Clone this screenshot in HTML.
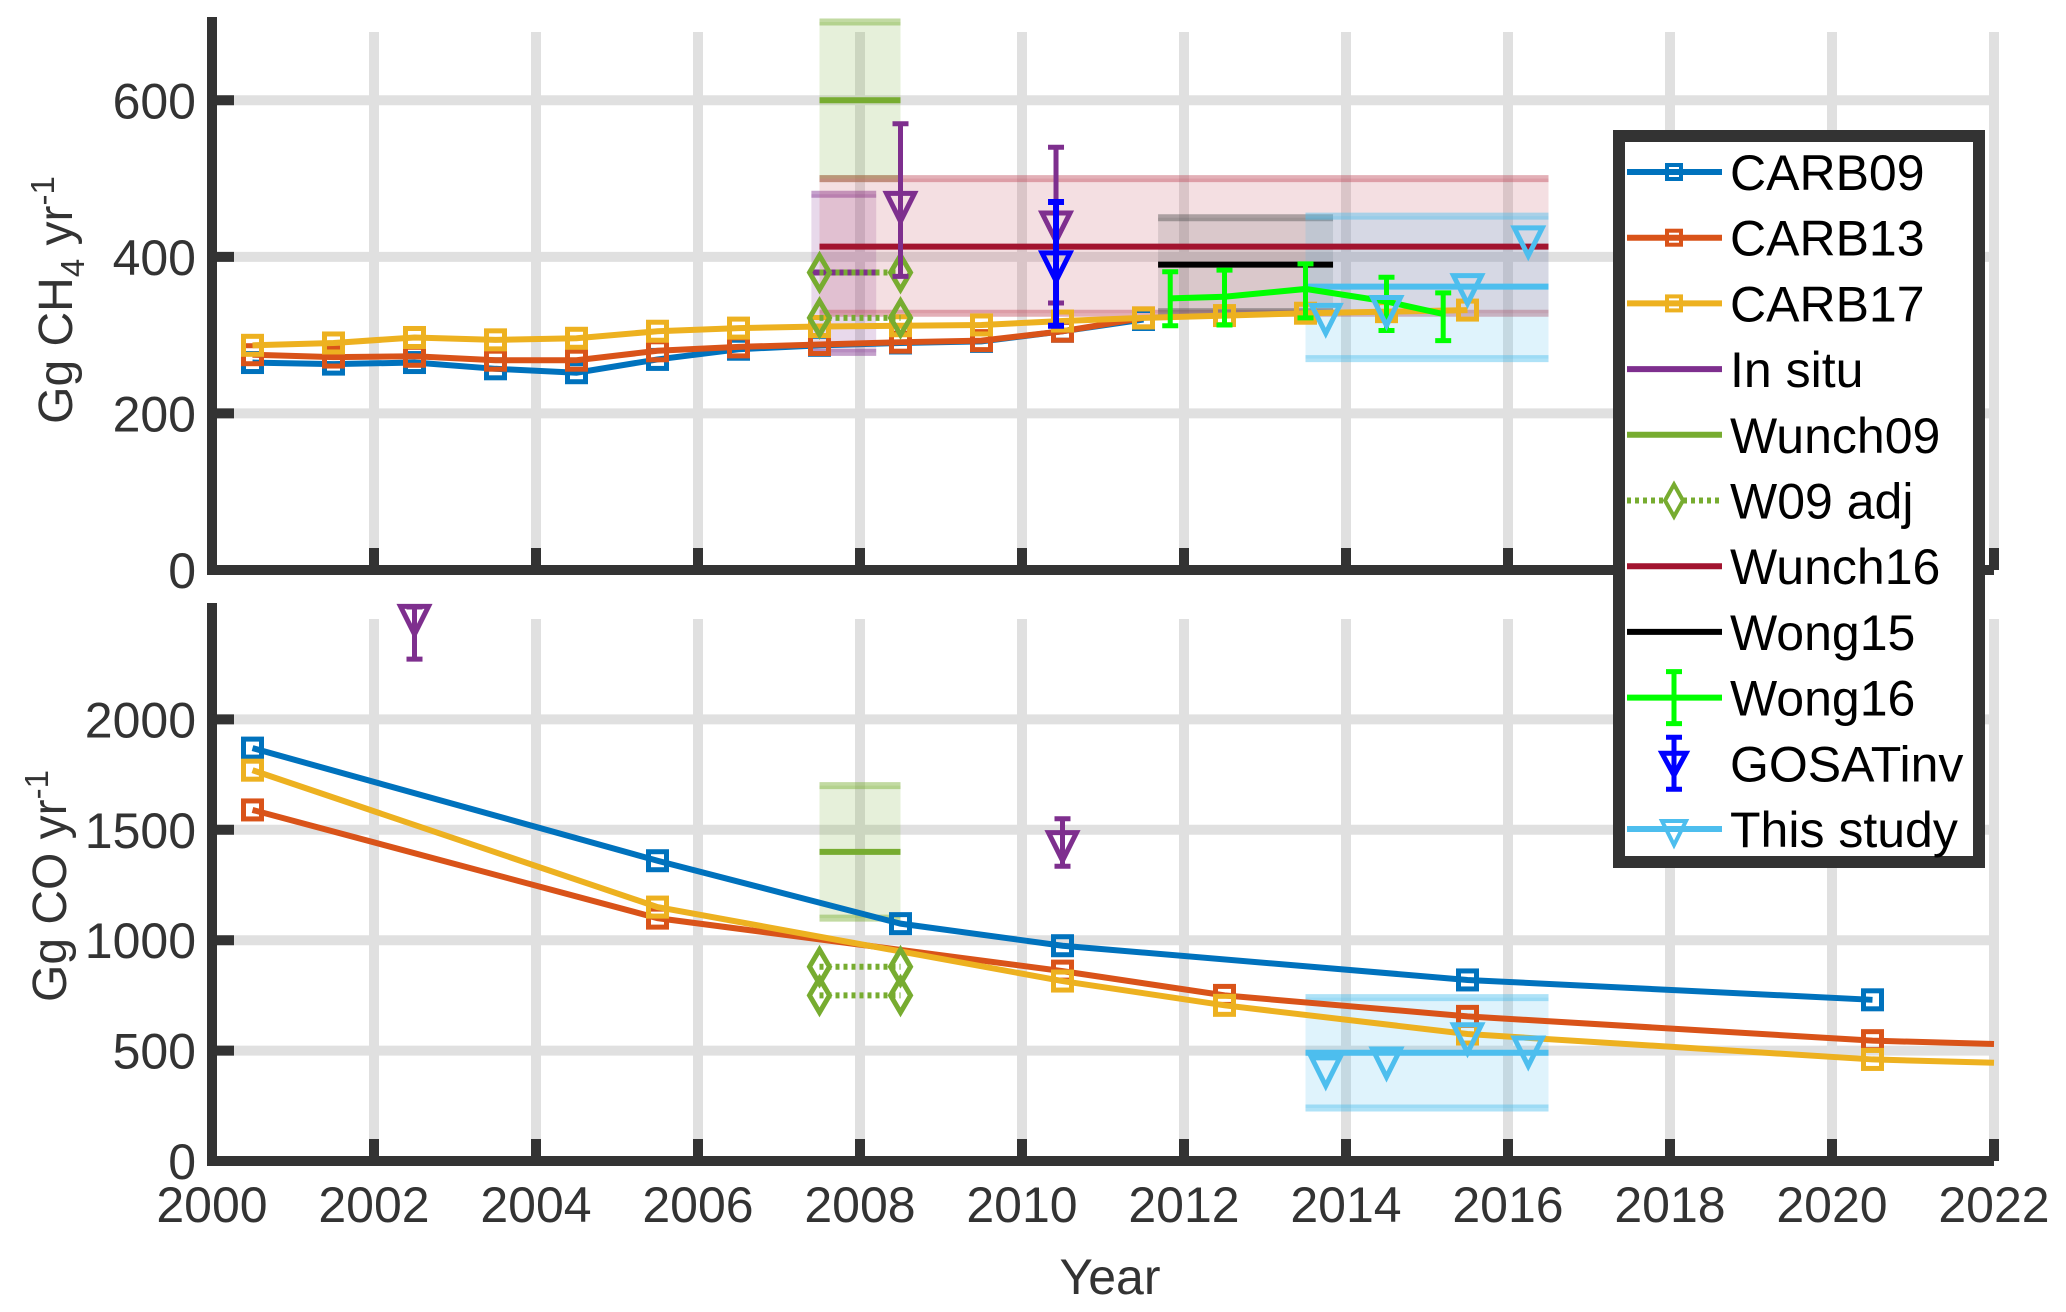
<!DOCTYPE html>
<html><head><meta charset="utf-8"><style>
html,body{margin:0;padding:0;background:#fff}
svg{display:block}
text{font-family:"Liberation Sans",sans-serif;fill:#333}
</style></head><body>
<svg id="chart" width="2066" height="1312" viewBox="0 0 2066 1312" xmlns="http://www.w3.org/2000/svg">
<g id="grid"></g><g id="marks"></g><g id="axes"></g><g id="legend"></g>
</svg>
<script>
// ---- data ----
const xTicks = [2000,2002,2004,2006,2008,2010,2012,2014,2016,2018,2020,2022];
const ch4Ticks = [0,200,400,600];
const coTicks = [0,500,1000,1500,2000];
const ch4Years = [2000.5,2001.5,2002.5,2003.5,2004.5,2005.5,2006.5,2007.5,2008.5,2009.5,2010.5,2011.5];
const ch4Carb09 = [265,263,265,257,252,269,282,287,290,292,305,320];
const ch4Carb13Years = [2000.5,2001.5,2002.5,2003.5,2004.5,2005.5,2006.5,2007.5,2008.5,2009.5,2010.5,2011.5];
const ch4Carb13 = [275,272,273,268,268,280,285,288,291,293,305,322];
const ch4Carb17Years = [2000.5,2001.5,2002.5,2003.5,2004.5,2005.5,2006.5,2007.5,2008.5,2009.5,2010.5,2011.5,2012.5,2013.5,2014.5,2015.5];
const ch4Carb17 = [287,290,297,294,296,305,309,311,312,313,318,322,325,328,330,332];
const coCarb09Years = [2000.5,2005.5,2008.5,2010.5,2015.5,2020.5];
const coCarb09 = [1870,1360,1075,975,820,730];
const coCarb13Years = [2000.5,2005.5,2010.5,2012.5,2015.5,2020.5,2022];
const coCarb13 = [1590,1100,860,750,655,545,530];
const coCarb17Years = [2000.5,2005.5,2010.5,2012.5,2015.5,2020.5,2022];
const coCarb17 = [1770,1150,815,705,575,460,445];
const wong16Years = [2011.83,2012.5,2013.5,2014.5,2015.2];
const wong16 = [347,349,359,343,327];
const wong16Lo = [312,313,322,306,293];
const wong16Hi = [381,383,391,374,354];
const studyCh4Years = [2013.75,2014.5,2015.5,2016.25];
const studyCh4 = [322,332,360,421];
const studyCoYears = [2013.75,2014.5,2015.5,2016.25];
const studyCo = [410,450,560,500];
const w09adjCh4 = [380,322];
const w09adjCo = [880,750];

// ---- axes geometry ----
const X0=212, X1=1994;
const xs = y => X0 + (y-2000)/22*(X1-X0);
const topY0=570, topY1=22, topMax=700;
const botY0=1161, botY1=609, botMax=2500;
const yT = v => topY0 - v/topMax*(topY0-topY1);
const yB = v => botY0 - v/botMax*(botY0-botY1);
const NS="http://www.w3.org/2000/svg";
function mk(parent, tag, attrs){const e=document.createElementNS(NS,tag);for(const k in attrs)e.setAttribute(k,attrs[k]);parent.appendChild(e);return e;}
const G=document.getElementById('grid'), M=document.getElementById('marks'), A=document.getElementById('axes'), L=document.getElementById('legend');

const C={b:'#0072BD',o:'#D95319',y:'#EDB120',p:'#7E2F8E',g:'#77AC30',r:'#A2142F',k:'#000',lg:'#00FF00',gb:'#0000FF',ls:'#4DBEEE'};

// grid
[[topY1,topY0,yT,ch4Ticks],[botY1,botY0,yB,coTicks]].forEach(([t,b,fy,ticks],pi)=>{
  xTicks.forEach(x=>{if(x>2000){const l=mk(G,'line',{x1:xs(x),x2:xs(x),y1:t+10,y2:b,stroke:'#e0e0e0','stroke-width':10});
    }});
  ticks.forEach(v=>{if(v>0){const l=mk(G,'line',{x1:X0,x2:X1,y1:fy(v),y2:fy(v),stroke:'#e0e0e0','stroke-width':10});
    }});
});

function box(fy,x1,x2,lo,hi,fill,edge,name){
  const r=mk(M,'rect',{x:xs(x1),y:fy(hi),width:xs(x2)-xs(x1),height:fy(lo)-fy(hi),fill:fill,'fill-opacity':0.18});
  
  [lo,hi].forEach(v=>{const l=mk(M,'line',{x1:xs(x1),x2:xs(x2),y1:fy(v),y2:fy(v),stroke:edge,'stroke-opacity':0.45,'stroke-width':7});
    });
}
function hline(fy,x1,x2,v,col,name,w){const l=mk(M,'line',{x1:xs(x1),x2:xs(x2),y1:fy(v),y2:fy(v),stroke:col,'stroke-width':w||6});
  }
function series(fy,xa,va,col,name,nMarkers){
  const p=mk(M,'polyline',{points:xa.map((x,i)=>xs(x)+','+fy(va[i])).join(' '),fill:'none',stroke:col,'stroke-width':6});
  
  xa.forEach((x,i)=>{if(i<nMarkers){const s=mk(M,'rect',{x:xs(x)-9,y:fy(va[i])-9,width:18,height:18,fill:'none',stroke:col,'stroke-width':5});
    }});
}
function tri(cx,cy,col,name,fill,s){s=s||14;const t=mk(M,'path',{d:`M${cx-s},${cy-s*0.9}L${cx+s},${cy-s*0.9}L${cx},${cy+s*1.1}Z`,fill:fill||'none',stroke:col,'stroke-width':5});
  }
function err(fy,x,lo,hi,col,name,w){const cx=xs(x);
  const l=mk(M,'path',{d:`M${cx},${fy(lo)}V${fy(hi)}M${cx-8},${fy(lo)}H${cx+8}M${cx-8},${fy(hi)}H${cx+8}`,stroke:col,'stroke-width':w||5,fill:'none'});
  }
function diamond(cx,cy,col,name){const d=mk(M,'path',{d:`M${cx},${cy-17}L${cx+10},${cy}L${cx},${cy+17}L${cx-10},${cy}Z`,fill:'none',stroke:col,'stroke-width':5});
  }

// ---- top panel (CH4) ----
box(yT,2007.5,2008.5,500,700,C.g,C.g,'wunch09-ch4-box');
box(yT,2007.4,2008.2,278,480,C.p,C.p,'insitu-ch4-box');
box(yT,2007.5,2016.5,328,500,'#c0505f','#c0505f','wunch16-ch4-box');
box(yT,2011.68,2013.84,330,450,'#666','#555','wong15-ch4-box');
box(yT,2013.5,2016.5,270,452,C.ls,C.ls,'study-ch4-box');
series(yT,ch4Years,ch4Carb09,C.b,'carb09-ch4',12);
series(yT,ch4Carb13Years,ch4Carb13,C.o,'carb13-ch4',12);
series(yT,ch4Carb17Years,ch4Carb17,C.y,'carb17-ch4',16);
hline(yT,2007.5,2008.5,600,C.g,'wunch09-ch4-line');
hline(yT,2007.5,2016.5,413,C.r,'wunch16-ch4-line');
hline(yT,2011.68,2013.84,390,C.k,'wong15-ch4-line');
hline(yT,2013.5,2016.5,362,C.ls,'study-ch4-line');
hline(yT,2007.4,2008.2,380,C.p,'insitu-ch4-line');
w09adjCh4.forEach(v=>{const l=mk(M,'line',{x1:xs(2007.5),x2:xs(2008.5),y1:yT(v),y2:yT(v),stroke:C.g,'stroke-width':6,'stroke-dasharray':'4 4'});
  
  diamond(xs(2007.5),yT(v),C.g,'w09adj-ch4-marker');diamond(xs(2008.5),yT(v),C.g,'w09adj-ch4-marker');});
err(yT,2008.5,375,570,C.p,'insitu-ch4-err');tri(xs(2008.5),yT(465),C.p,'insitu-ch4-marker');
err(yT,2010.42,341,540,C.p,'insitu-ch4-err');tri(xs(2010.42),yT(440),C.p,'insitu-ch4-marker');
err(yT,2010.42,312,470,C.gb,'gosat-ch4-err',6);tri(xs(2010.42),yT(389),C.gb,'gosat-ch4-marker');
const wp=mk(M,'polyline',{points:wong16Years.map((x,i)=>xs(x)+','+yT(wong16[i])).join(' '),fill:'none',stroke:C.lg,'stroke-width':6});

wong16Years.forEach((x,i)=>err(yT,x,wong16Lo[i],wong16Hi[i],C.lg,'wong16-ch4-err'));
studyCh4Years.forEach((x,i)=>tri(xs(x),yT(studyCh4[i]),C.ls,'study-ch4-marker'));

// ---- bottom panel (CO) ----
box(yB,2007.5,2008.5,1100,1700,C.g,C.g,'wunch09-co-box');
box(yB,2013.5,2016.5,240,740,C.ls,C.ls,'study-co-box');
series(yB,coCarb09Years,coCarb09,C.b,'carb09-co',6);
series(yB,coCarb13Years,coCarb13,C.o,'carb13-co',6);
series(yB,coCarb17Years,coCarb17,C.y,'carb17-co',6);
hline(yB,2007.5,2008.5,1400,C.g,'wunch09-co-line');
hline(yB,2013.5,2016.5,490,C.ls,'study-co-line');
w09adjCo.forEach(v=>{const l=mk(M,'line',{x1:xs(2007.5),x2:xs(2008.5),y1:yB(v),y2:yB(v),stroke:C.g,'stroke-width':6,'stroke-dasharray':'4 4'});
  
  diamond(xs(2007.5),yB(v),C.g,'w09adj-co-marker');diamond(xs(2008.5),yB(v),C.g,'w09adj-co-marker');});
err(yB,2002.5,2273,2509,C.p,'insitu-co-err');tri(xs(2002.5),yB(2455),C.p,'insitu-co-marker');
err(yB,2010.5,1335,1550,C.p,'insitu-co-err');tri(xs(2010.5),yB(1430),C.p,'insitu-co-marker');
studyCoYears.forEach((x,i)=>tri(xs(x),yB(studyCo[i]),C.ls,'study-co-marker'));

// ---- axes ----
[[topY1-5,topY0,yT,ch4Ticks,'ch4'],[botY1-6,botY0,yB,coTicks,'co']].forEach(([t,b,fy,ticks,nm])=>{
  const ax=mk(A,'path',{d:`M${X0},${t}V${b}H${X1}`,fill:'none',stroke:'#333','stroke-width':10});
  
  xTicks.forEach(x=>{if(x>2000){const l=mk(A,'line',{x1:xs(x),x2:xs(x),y1:b,y2:b-22,stroke:'#333','stroke-width':10});
    }});
  ticks.forEach(v=>{const l=mk(A,'line',{x1:X0,x2:X0+22,y1:fy(v),y2:fy(v),stroke:'#333','stroke-width':10});
    
    const tx=mk(A,'text',{x:X0-16,y:fy(v)+18,'text-anchor':'end','font-size':50});tx.textContent=v;
    });
});
xTicks.forEach(x=>{const tx=mk(A,'text',{x:xs(x),y:1222,'text-anchor':'middle','font-size':50});tx.textContent=x;
  });
</script>
<svg style="position:absolute;left:0;top:0" width="2066" height="1312">
<text x="1110" y="1294" text-anchor="middle" font-size="50" style="font-family:'Liberation Sans',sans-serif;fill:#333">Year</text>
<text transform="translate(72,300) rotate(-90)" text-anchor="middle" font-size="48" style="font-family:'Liberation Sans',sans-serif;fill:#333">Gg CH<tspan font-size="33" dy="12">4</tspan><tspan dy="-12"> yr</tspan><tspan font-size="33" dy="-18">-1</tspan></text>
<text transform="translate(66,886) rotate(-90)" text-anchor="middle" font-size="48" style="font-family:'Liberation Sans',sans-serif;fill:#333">Gg CO yr<tspan font-size="33" dy="-18">-1</tspan></text>
</svg>
<script>
// legend
(function(){
const labels=['CARB09','CARB13','CARB17','In situ','Wunch09','W09 adj','Wunch16','Wong15','Wong16','GOSATinv','This study'];
const Lg=document.getElementById('legend');
const NS="http://www.w3.org/2000/svg";
function mk(p,t,a){const e=document.createElementNS(NS,t);for(const k in a)e.setAttribute(k,a[k]);p.appendChild(e);return e;}
const bg=mk(Lg,'rect',{x:1619,y:136,width:360,height:726,fill:'#fff',stroke:'#333','stroke-width':12});

const cols=['#0072BD','#D95319','#EDB120','#7E2F8E','#77AC30','#77AC30','#A2142F','#000','#00FF00','#0000FF','#4DBEEE'];
labels.forEach((lab,i)=>{
  const cy=172+i*65.7, g=mk(Lg,'g',{});
  
  const c=cols[i];
  if(i!==9){mk(g,'line',{x1:1627,x2:1722,y1:cy,y2:cy,stroke:c,'stroke-width':6,'stroke-dasharray':i===5?'4 4':'none'});}
  if(i<3)mk(g,'rect',{x:1667,y:cy-7,width:14,height:14,fill:'none',stroke:c,'stroke-width':4});
  if(i===5)mk(g,'path',{d:`M1674,${cy-16}L1683,${cy}L1674,${cy+16}L1665,${cy}Z`,fill:'#fff',stroke:c,'stroke-width':4});
  if(i===8)mk(g,'path',{d:`M1674,${cy-26}V${cy+26}M1666,${cy-26}H1682M1666,${cy+26}H1682`,stroke:c,'stroke-width':5});
  if(i===9){mk(g,'path',{d:`M1674,${cy-26}V${cy+26}M1666,${cy-26}H1682M1666,${cy+26}H1682`,stroke:c,'stroke-width':5});
    mk(g,'path',{d:`M1662,${cy-10}L1686,${cy-10}L1674,${cy+12}Z`,fill:'none',stroke:c,'stroke-width':5});}
  if(i===10)mk(g,'path',{d:`M1662,${cy-8}L1686,${cy-8}L1674,${cy+16}Z`,fill:'none',stroke:c,'stroke-width':4});
  const t=mk(g,'text',{x:1730,y:cy+18,'font-size':50,style:'fill:#000'});t.textContent=lab;
});
})();
</script>
</body></html>
